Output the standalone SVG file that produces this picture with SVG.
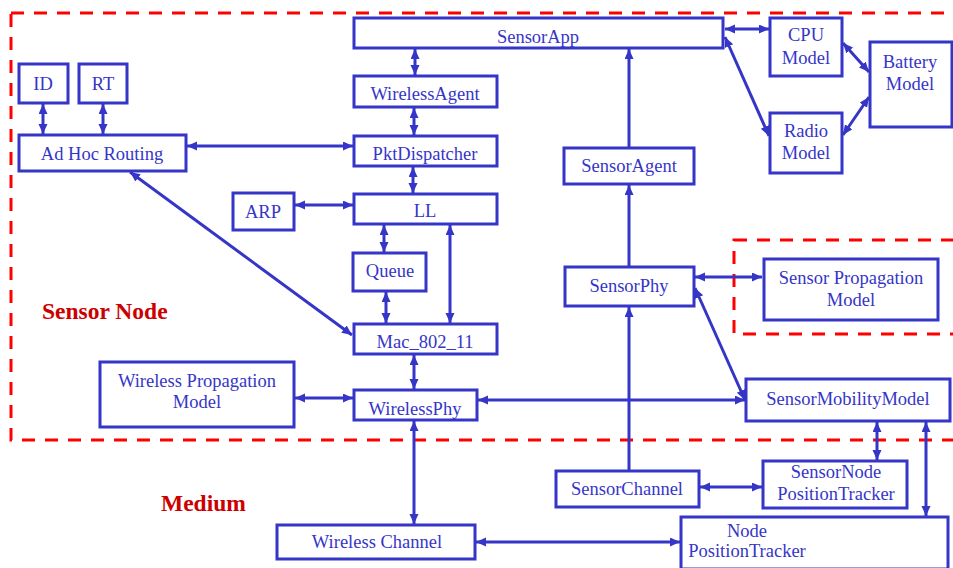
<svg xmlns="http://www.w3.org/2000/svg" width="953" height="568" viewBox="0 0 953 568">
  <style>
    .box { fill: #ffffff; stroke: #3535c8; stroke-width: 3; }
    .lbl { font-family: "Liberation Serif", "Times New Roman", serif; font-size: 18.5px; fill: #3535c8; text-anchor: middle; }
    .zone { fill: none; stroke: #ff0000; stroke-width: 3; stroke-dasharray: 13 10; }
    .title { font-family: "Liberation Serif", "Times New Roman", serif; font-size: 23.5px; font-weight: bold; fill: #cc0000; }
    .wire { fill: none; stroke: #3535c8; stroke-width: 3; }
  </style>
  <defs>
    <marker id="head" markerUnits="userSpaceOnUse" markerWidth="11" markerHeight="10" refX="10" refY="4.5" orient="auto-start-reverse">
      <path d="M0,0 L10,4.5 L0,9 z" fill="#3535c8"/>
    </marker>
  </defs>

  <rect width="953" height="568" fill="#ffffff"/>

  <!-- boundaries -->
  <rect class="zone" x="11" y="13" width="960" height="427"/>
  <rect class="zone" x="734" y="240" width="240" height="94"/>
  <text class="title" x="42" y="319">Sensor Node</text>
  <text class="title" x="161" y="511">Medium</text>

  <!-- connectors -->
  <g id="connectors">
    <line class="wire" x1="43" y1="104" x2="43" y2="134" marker-start="url(#head)" marker-end="url(#head)"/>
    <line class="wire" x1="103" y1="104" x2="103" y2="134" marker-start="url(#head)" marker-end="url(#head)"/>
    <line class="wire" x1="187" y1="146" x2="353" y2="146" marker-start="url(#head)" marker-end="url(#head)"/>
    <line class="wire" x1="415" y1="49" x2="415" y2="75" marker-start="url(#head)" marker-end="url(#head)"/>
    <line class="wire" x1="414" y1="108" x2="414" y2="135" marker-start="url(#head)" marker-end="url(#head)"/>
    <line class="wire" x1="413" y1="167" x2="413" y2="193" marker-start="url(#head)" marker-end="url(#head)"/>
    <line class="wire" x1="295" y1="205" x2="353" y2="205" marker-start="url(#head)" marker-end="url(#head)"/>
    <line class="wire" x1="384" y1="225" x2="384" y2="252" marker-start="url(#head)" marker-end="url(#head)"/>
    <line class="wire" x1="386" y1="292" x2="386" y2="323" marker-start="url(#head)" marker-end="url(#head)"/>
    <line class="wire" x1="450" y1="225" x2="450" y2="323" marker-start="url(#head)" marker-end="url(#head)"/>
    <line class="wire" x1="130" y1="172" x2="352" y2="335" marker-start="url(#head)" marker-end="url(#head)"/>
    <line class="wire" x1="414" y1="355" x2="414" y2="389" marker-start="url(#head)" marker-end="url(#head)"/>
    <line class="wire" x1="295" y1="398" x2="353" y2="398" marker-start="url(#head)" marker-end="url(#head)"/>
    <line class="wire" x1="478" y1="400" x2="745" y2="400" marker-start="url(#head)" marker-end="url(#head)"/>
    <line class="wire" x1="414" y1="421" x2="414" y2="524" marker-start="url(#head)" marker-end="url(#head)"/>
    <line class="wire" x1="476" y1="542" x2="680" y2="542" marker-start="url(#head)" marker-end="url(#head)"/>
    <line class="wire" x1="700" y1="487" x2="762" y2="487" marker-start="url(#head)" marker-end="url(#head)"/>
    <line class="wire" x1="877" y1="422" x2="877" y2="460" marker-start="url(#head)" marker-end="url(#head)"/>
    <line class="wire" x1="926" y1="422" x2="926" y2="516" marker-start="url(#head)" marker-end="url(#head)"/>
    <line class="wire" x1="629" y1="471" x2="629" y2="307" marker-end="url(#head)"/>
    <line class="wire" x1="629" y1="267" x2="629" y2="185" marker-end="url(#head)"/>
    <line class="wire" x1="629" y1="148" x2="629" y2="49" marker-end="url(#head)"/>
    <line class="wire" x1="695" y1="277" x2="762" y2="277" marker-start="url(#head)" marker-end="url(#head)"/>
    <line class="wire" x1="695" y1="288" x2="745" y2="400" marker-start="url(#head)" marker-end="url(#head)"/>
    <line class="wire" x1="725" y1="29" x2="769" y2="29" marker-start="url(#head)" marker-end="url(#head)"/>
    <line class="wire" x1="725" y1="37" x2="769" y2="136" marker-start="url(#head)" marker-end="url(#head)"/>
    <line class="wire" x1="843" y1="43" x2="869" y2="72" marker-start="url(#head)" marker-end="url(#head)"/>
    <line class="wire" x1="843" y1="135" x2="869" y2="97" marker-start="url(#head)" marker-end="url(#head)"/>
  </g>

  <!-- nodes -->
  <g id="sensor-app"><rect class="box" x="354" y="18" width="369" height="30"/><text class="lbl" x="538" y="43">SensorApp</text></g>
  <g id="wireless-agent"><rect class="box" x="354" y="76" width="143" height="31"/><text class="lbl" x="425" y="100">WirelessAgent</text></g>
  <g id="pkt-dispatcher"><rect class="box" x="354" y="136" width="143" height="30"/><text class="lbl" x="425" y="160">PktDispatcher</text></g>
  <g id="ll"><rect class="box" x="354" y="194" width="143" height="30"/><text class="lbl" x="425" y="217">LL</text></g>
  <g id="arp"><rect class="box" x="233" y="193" width="61" height="37"/><text class="lbl" x="263" y="218">ARP</text></g>
  <g id="queue"><rect class="box" x="353" y="253" width="73" height="38"/><text class="lbl" x="390" y="277">Queue</text></g>
  <g id="mac"><rect class="box" x="354" y="324" width="143" height="30"/><text class="lbl" x="425" y="348">Mac_802_11</text></g>
  <g id="wireless-phy"><rect class="box" x="354" y="390" width="123" height="30"/><text class="lbl" x="415" y="415">WirelessPhy</text></g>
  <g id="wireless-propagation"><rect class="box" x="100" y="362" width="194" height="65"/><text class="lbl" x="197" y="387">Wireless Propagation</text><text class="lbl" x="197" y="408">Model</text></g>
  <g id="id"><rect class="box" x="19" y="64" width="49" height="39"/><text class="lbl" x="43" y="90">ID</text></g>
  <g id="rt"><rect class="box" x="79" y="64" width="48" height="39"/><text class="lbl" x="103" y="90">RT</text></g>
  <g id="adhoc-routing"><rect class="box" x="19" y="135" width="167" height="36"/><text class="lbl" x="102" y="160">Ad Hoc Routing</text></g>
  <g id="cpu-model"><rect class="box" x="770" y="18" width="72" height="58"/><text class="lbl" x="806" y="41">CPU</text><text class="lbl" x="806" y="64">Model</text></g>
  <g id="radio-model"><rect class="box" x="770" y="113" width="72" height="60"/><text class="lbl" x="806" y="137">Radio</text><text class="lbl" x="806" y="159">Model</text></g>
  <g id="battery-model"><rect class="box" x="870" y="42" width="82" height="85"/><text class="lbl" x="910" y="68">Battery</text><text class="lbl" x="910" y="90">Model</text></g>
  <g id="sensor-agent"><rect class="box" x="564" y="148" width="130" height="36"/><text class="lbl" x="629" y="172">SensorAgent</text></g>
  <g id="sensor-phy"><rect class="box" x="565" y="267" width="129" height="39"/><text class="lbl" x="629" y="292">SensorPhy</text></g>
  <g id="sensor-propagation"><rect class="box" x="764" y="259" width="174" height="61"/><text class="lbl" x="851" y="284">Sensor Propagation</text><text class="lbl" x="851" y="306">Model</text></g>
  <g id="sensor-mobility"><rect class="box" x="746" y="379" width="204" height="42"/><text class="lbl" x="848" y="405">SensorMobilityModel</text></g>
  <g id="sensor-channel"><rect class="box" x="556" y="471" width="143" height="36"/><text class="lbl" x="627" y="495">SensorChannel</text></g>
  <g id="sensor-node-tracker"><rect class="box" x="763" y="461" width="144" height="47"/><text class="lbl" x="836" y="478">SensorNode</text><text class="lbl" x="836" y="500">PositionTracker</text></g>
  <g id="node-tracker"><rect class="box" x="681" y="517" width="267" height="52"/><text class="lbl" x="747" y="537">Node</text><text class="lbl" x="747" y="557">PositionTracker</text></g>
  <g id="wireless-channel"><rect class="box" x="277" y="525" width="198" height="34"/><text class="lbl" x="377" y="548">Wireless Channel</text></g>
</svg>
